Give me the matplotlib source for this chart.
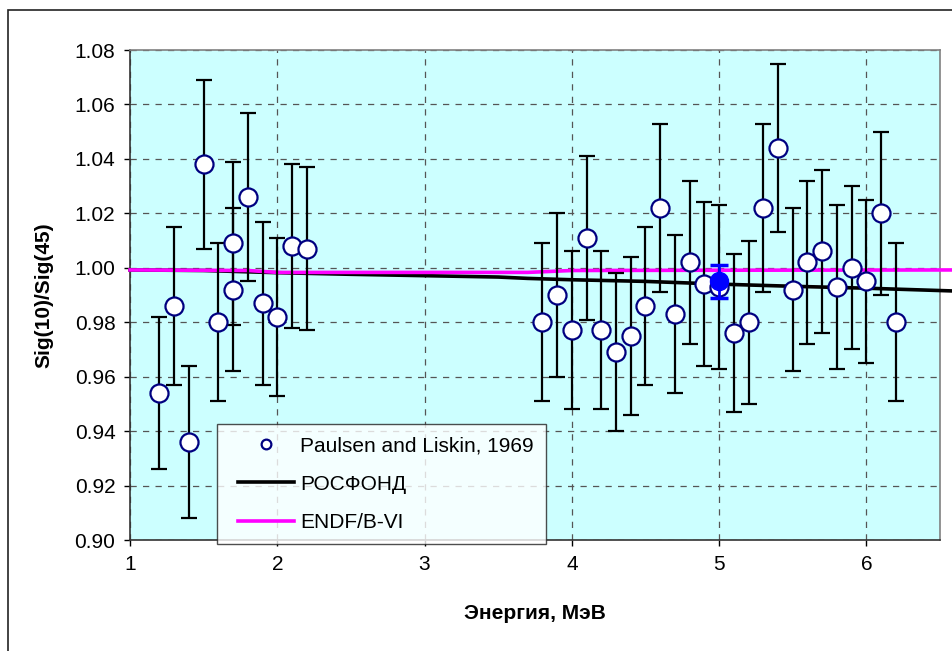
import matplotlib
matplotlib.use("Agg")
import matplotlib.pyplot as plt
from matplotlib.patches import Rectangle
from matplotlib.lines import Line2D
from matplotlib.legend_handler import HandlerLine2D

plt.rcParams['font.family'] = ['Liberation Sans', 'DejaVu Sans']

# Experimental data: Paulsen and Liskin, 1969
exp_energy = [1.2, 1.3, 1.4, 1.5, 1.6, 1.7, 1.7, 1.8, 1.9, 2.0, 2.1, 2.2,
              3.8, 3.9, 4.0, 4.1, 4.2, 4.3, 4.4, 4.5, 4.6, 4.7, 4.8, 4.9, 5.0,
              5.1, 5.2, 5.3, 5.4, 5.5, 5.6, 5.7, 5.8, 5.9, 6.0, 6.1, 6.2]
exp_ratio = [0.954, 0.986, 0.936, 1.038, 0.980, 1.009, 0.992, 1.026, 0.987, 0.982, 1.008, 1.007,
             0.980, 0.990, 0.977, 1.011, 0.977, 0.969, 0.975, 0.986, 1.022, 0.983, 1.002, 0.994, 0.993,
             0.976, 0.980, 1.022, 1.044, 0.992, 1.002, 1.006, 0.993, 1.000, 0.995, 1.020, 0.980]
exp_err = [0.028, 0.029, 0.028, 0.031, 0.029, 0.030, 0.030, 0.031, 0.030, 0.029, 0.030, 0.030,
           0.029, 0.030, 0.029, 0.030, 0.029, 0.029, 0.029, 0.029, 0.031, 0.029, 0.030, 0.030, 0.030,
           0.029, 0.030, 0.031, 0.031, 0.030, 0.030, 0.030, 0.030, 0.030, 0.030, 0.030, 0.029]

# Highlighted point
hl_energy = [5.0]
hl_ratio = [0.995]
hl_err = [0.006]

# Evaluated curves
rosfond_energy = [1.0, 1.5, 2.0, 2.5, 3.0, 3.5, 3.7, 4.0, 4.5, 5.0, 5.5, 6.0, 6.58]
rosfond_ratio = [0.9992, 0.9990, 0.9982, 0.9976, 0.9971, 0.9966, 0.9961, 0.9956, 0.9950, 0.9940, 0.9932, 0.9925, 0.9915]
endf_energy = [1.0, 1.8, 2.0, 3.0, 3.7, 4.0, 5.0, 6.58]
endf_ratio = [0.9992, 0.9990, 0.9983, 0.9983, 0.9983, 0.9990, 0.9991, 0.9992]

xticks = [1, 2, 3, 4, 5, 6]
yticks = [0.90, 0.92, 0.94, 0.96, 0.98, 1.00, 1.02, 1.04, 1.06, 1.08]

fig = plt.figure(figsize=(9.53, 6.51), dpi=100)
# outer chart border (only left and top edges fall inside the image)
fig.patches.append(Rectangle((8/953, -20/651), 980/953, 661/651, transform=fig.transFigure,
                             fill=False, edgecolor='#222222', linewidth=1.2))
ax = fig.add_axes([130/953, 111/651, 810/953, 490/651])
ax.set_facecolor('#CCFFFF')

ax.plot(rosfond_energy, rosfond_ratio, color='black', lw=2.6, zorder=3, clip_on=False)
ax.plot(endf_energy, endf_ratio, color='#FF00FF', lw=2.6, zorder=3, clip_on=False)

ax.errorbar(exp_energy, exp_ratio, yerr=exp_err, fmt='none', ecolor='black',
            elinewidth=1.6, capsize=5.5, capthick=1.6, zorder=4)
ax.plot(exp_energy, exp_ratio, 'o', ms=13, mfc='white', mec='#000080', mew=1.6,
        linestyle='none', zorder=5)
ax.errorbar(hl_energy, hl_ratio, yerr=hl_err, fmt='o', ms=13, mfc='#0000FF', mec='#0000FF',
            ecolor='#0000FF', elinewidth=2, capsize=6.5, capthick=2.5, zorder=6)

ax.set_xlim(1, 6.5)
ax.set_ylim(0.90, 1.08)
ax.set_xticks(xticks)
ax.set_yticks(yticks)
ax.set_xticklabels([str(t) for t in xticks])
ax.set_yticklabels(['%.2f' % t for t in yticks])
ax.grid(True, color='#555555', linestyle=(0, (5, 5)), linewidth=0.9)
ax.set_axisbelow(True)
for s in ax.spines.values():
    s.set_color('#808080')
    s.set_linewidth(1.2)
ax.spines['left'].set_color('#333333')
ax.spines['bottom'].set_color('#333333')
ax.tick_params(axis='both', direction='out', length=4.5, width=1, labelsize=15, pad=6)

ax.set_xlabel('Энергия, МэВ', fontsize=15, fontweight='bold', labelpad=22)
ax.set_ylabel('Sig(10)/Sig(45)', fontsize=15, fontweight='bold', labelpad=15)

handles = [
    Line2D([], [], marker='o', ms=7, mfc='white', mec='#000080', mew=1.6, linestyle='none'),
    Line2D([], [], color='black', lw=2.6),
    Line2D([], [], color='#FF00FF', lw=2.6),
]
labels = ['Paulsen and Liskin, 1969', 'РОСФОНД', 'ENDF/B-VI']
leg = ax.legend(handles, labels, loc='upper left', bbox_to_anchor=(87/810, 116/490),
                fontsize=15, frameon=True, fancybox=False, borderaxespad=0,
                handlelength=3.1, handletextpad=0.3, labelspacing=0.92,
                borderpad=0.6, facecolor='white', edgecolor='#222222',
                handler_map={Line2D: HandlerLine2D(xpad=0.4)})
leg.get_frame().set_linewidth(1.0)
leg.set_zorder(10)

fig.savefig('out.png', dpi=100)
